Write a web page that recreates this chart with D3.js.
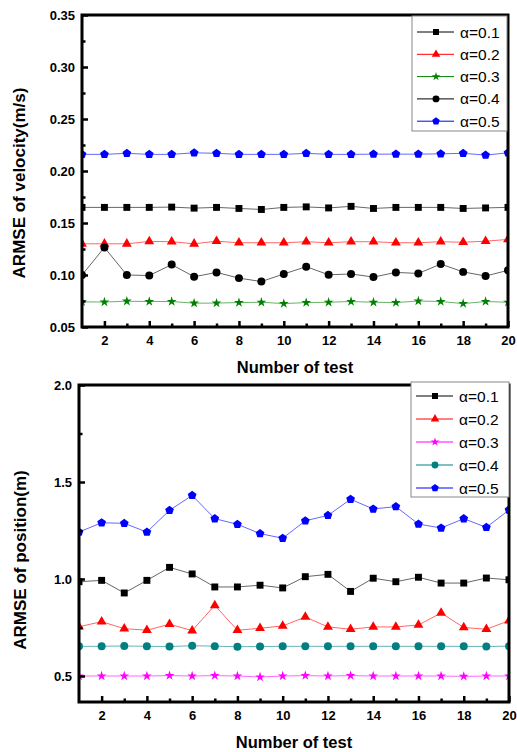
<!DOCTYPE html>
<html>
<head>
<meta charset="utf-8">
<script src="https://cdn.jsdelivr.net/npm/d3@7"></script>
<style>
  html, body { margin: 0; padding: 0; background: #fff; }
  svg { display: block; }
  text { font-family: "Liberation Sans", Arial, sans-serif; }
</style>
</head>
<body>
<svg id="chart" width="517" height="752"></svg>
<script>
// Test indices shared by both panels
const tests = d3.range(1, 21);
const xTicks = [2, 4, 6, 8, 10, 12, 14, 16, 18, 20];

// Velocity ARMSE (m/s) per alpha
const velA1 = [0.165, 0.165, 0.165, 0.165, 0.1653, 0.1643, 0.165, 0.164, 0.163, 0.165,
               0.1655, 0.1645, 0.166, 0.164, 0.165, 0.165, 0.165, 0.164, 0.1645, 0.165];
const velA2 = [0.130, 0.130, 0.130, 0.1323, 0.132, 0.130, 0.1325, 0.131, 0.131, 0.131,
               0.132, 0.131, 0.132, 0.132, 0.131, 0.131, 0.132, 0.1315, 0.1325, 0.1342];
const velA3 = [0.0742, 0.074, 0.0748, 0.0745, 0.0745, 0.0729, 0.073, 0.0735, 0.0738, 0.0725,
               0.0735, 0.0738, 0.0745, 0.0738, 0.0735, 0.075, 0.0745, 0.0725, 0.0745, 0.0738];
const velA4 = [0.100, 0.1265, 0.100, 0.0995, 0.110, 0.0983, 0.1025, 0.097, 0.0937, 0.101,
               0.108, 0.1002, 0.101, 0.098, 0.1025, 0.1015, 0.1105, 0.103, 0.099, 0.1045];
const velA5 = [0.216, 0.216, 0.217, 0.216, 0.216, 0.2175, 0.217, 0.216, 0.216, 0.216,
               0.217, 0.216, 0.216, 0.2162, 0.2162, 0.2162, 0.2165, 0.217, 0.2153, 0.2175];

// Position ARMSE (m) per alpha
const posA1 = [0.986, 0.993, 0.928, 0.993, 1.060, 1.026, 0.959, 0.959, 0.968, 0.954,
               1.012, 1.024, 0.936, 1.004, 0.986, 1.009, 0.979, 0.979, 1.005, 0.996];
const posA2 = [0.754, 0.780, 0.744, 0.736, 0.767, 0.734, 0.864, 0.736, 0.746, 0.758,
               0.804, 0.753, 0.741, 0.753, 0.753, 0.763, 0.825, 0.750, 0.741, 0.785];
const posA3 = [0.500, 0.500, 0.500, 0.500, 0.502, 0.500, 0.502, 0.500, 0.495, 0.500,
               0.502, 0.500, 0.502, 0.500, 0.500, 0.500, 0.500, 0.498, 0.500, 0.500];
const posA4 = [0.653, 0.653, 0.655, 0.653, 0.652, 0.656, 0.654, 0.651, 0.652, 0.653,
               0.653, 0.653, 0.653, 0.653, 0.653, 0.653, 0.653, 0.653, 0.652, 0.654];
const posA5 = [1.242, 1.290, 1.287, 1.242, 1.354, 1.431, 1.311, 1.282, 1.234, 1.210,
               1.300, 1.328, 1.411, 1.361, 1.373, 1.283, 1.263, 1.311, 1.266, 1.356];

const legendLabels = ["α=0.1", "α=0.2", "α=0.3", "α=0.4", "α=0.5"];
const velYTicks = [0.05, 0.10, 0.15, 0.20, 0.25, 0.30, 0.35];
const posYTicks = [0.5, 1.0, 1.5, 2.0];

// Filled pentagon marker
const pentagon = {
  draw(ctx, size) {
    const r = Math.sqrt(size / 2.378);
    for (let i = 0; i < 5; i++) {
      const a = -Math.PI / 2 + i * 2 * Math.PI / 5;
      const px = r * Math.cos(a), py = r * Math.sin(a);
      if (i === 0) ctx.moveTo(px, py); else ctx.lineTo(px, py);
    }
    ctx.closePath();
  }
};

const panels = [
  {
    box: { left: 82, top: 15, right: 508, bottom: 327 },
    yDomain: [0.05, 0.35], yTicks: velYTicks, yFmt: d3.format(".2f"),
    yMinor: d3.range(0.075, 0.35, 0.05),
    yTitle: "ARMSE of velocity(m/s)", yTitleX: 25, yTitleY: 183,
    series: [
      { values: velA1, color: "#000000", shape: d3.symbolSquare, size: 48 },
      { values: velA2, color: "#ff0000", shape: d3.symbolTriangle, size: 42 },
      { values: velA3, color: "#008000", shape: d3.symbolStar, size: 30 },
      { values: velA4, color: "#000000", shape: d3.symbolCircle, size: 50 },
      { values: velA5, color: "#0000ff", shape: pentagon, size: 50 }
    ],
    legend: { x: 412, y: 16, w: 95, h: 115, row0: 32, dy: 22.3 }
  },
  {
    box: { left: 79, top: 385, right: 509, bottom: 702 },
    yDomain: [0.366, 2.0], yTicks: posYTicks, yFmt: d3.format(".1f"),
    yMinor: [0.75, 1.25, 1.75],
    yTitle: "ARMSE of position(m)", yTitleX: 26, yTitleY: 560,
    series: [
      { values: posA1, color: "#000000", shape: d3.symbolSquare, size: 48 },
      { values: posA2, color: "#ff0000", shape: d3.symbolTriangle, size: 42 },
      { values: posA3, color: "#ff00ff", shape: d3.symbolStar, size: 30 },
      { values: posA4, color: "#008080", shape: d3.symbolCircle, size: 50 },
      { values: posA5, color: "#0000ff", shape: pentagon, size: 50 }
    ],
    legend: { x: 411, y: 382, w: 98, h: 115, row0: 396, dy: 23 }
  }
];

const svg = d3.select("#chart");

panels.forEach((p, pi) => {
  const b = p.box;
  const x = d3.scaleLinear().domain([1, 20]).range([b.left, b.right]);
  const y = d3.scaleLinear().domain(p.yDomain).range([b.bottom, b.top]);
  const g = svg.append("g");

  const clipId = "plotclip" + pi;
  svg.append("clipPath").attr("id", clipId)
    .append("rect").attr("x", b.left).attr("y", b.top)
    .attr("width", b.right - b.left).attr("height", b.bottom - b.top);

  const plot = g.append("g").attr("clip-path", `url(#${clipId})`);

  p.series.forEach(s => {
    const line = d3.line().x((d, i) => x(tests[i])).y(d => y(d));
    plot.append("path")
      .attr("d", line(s.values))
      .attr("fill", "none")
      .attr("stroke", s.color)
      .attr("stroke-opacity", 0.6)
      .attr("stroke-width", 1);
    plot.selectAll(null).data(s.values).enter().append("path")
      .attr("d", d3.symbol().type(s.shape).size(s.size))
      .attr("transform", (d, i) => `translate(${x(tests[i])},${y(d)})`)
      .attr("fill", s.color);
  });

  // Axes with inward ticks
  const xAxisBottom = d3.axisBottom(x).tickValues(xTicks).tickSize(-6).tickPadding(9).tickFormat(d3.format("d"));
  const xMinor = d3.axisBottom(x).tickValues(d3.range(3, 20, 2)).tickSize(-3.5).tickFormat("");
  const yAxisLeft = d3.axisLeft(y).tickValues(p.yTicks).tickSize(-6).tickPadding(7).tickFormat(p.yFmt);
  const yMinor = d3.axisLeft(y).tickValues(p.yMinor).tickSize(-3.5).tickFormat("");

  const styleAxis = sel => {
    sel.select(".domain").remove();
    sel.selectAll(".tick line").attr("stroke", "#000").attr("stroke-width", 2.5);
    sel.selectAll(".tick text")
      .attr("fill", "#000")
      .style("font-size", "13px")
      .style("font-weight", "bold")
      .style("font-family", '"Liberation Sans", Arial, sans-serif');
  };

  g.append("g").attr("transform", `translate(0,${b.bottom})`).call(xAxisBottom).call(styleAxis);
  g.append("g").attr("transform", `translate(0,${b.bottom})`).call(xMinor).call(styleAxis);
  g.append("g").attr("transform", `translate(${b.left},0)`).call(yAxisLeft).call(styleAxis);
  g.append("g").attr("transform", `translate(${b.left},0)`).call(yMinor).call(styleAxis);

  // Frame
  g.append("rect")
    .attr("x", b.left).attr("y", b.top)
    .attr("width", b.right - b.left).attr("height", b.bottom - b.top)
    .attr("fill", "none").attr("stroke", "#000").attr("stroke-width", 3);

  // Axis titles
  g.append("text")
    .attr("x", (b.left + b.right) / 2).attr("y", b.bottom + 46)
    .attr("text-anchor", "middle")
    .style("font-size", "16.5px").style("font-weight", "bold")
    .text("Number of test");

  g.append("text")
    .attr("transform", `translate(${p.yTitleX},${p.yTitleY}) rotate(-90)`)
    .attr("text-anchor", "middle")
    .style("font-size", "17px").style("font-weight", "bold")
    .text(p.yTitle);

  // Legend
  const L = p.legend;
  const lg = g.append("g");
  lg.append("rect")
    .attr("x", L.x).attr("y", L.y).attr("width", L.w).attr("height", L.h)
    .attr("fill", "#fff").attr("stroke", "#888").attr("stroke-width", 1);
  p.series.forEach((s, i) => {
    const cy = L.row0 + i * L.dy;
    lg.append("line")
      .attr("x1", L.x + 5).attr("x2", L.x + 42)
      .attr("y1", cy).attr("y2", cy)
      .attr("stroke", s.color).attr("stroke-width", 1);
    lg.append("path")
      .attr("d", d3.symbol().type(s.shape).size(s.size * 0.75))
      .attr("transform", `translate(${L.x + 24},${cy})`)
      .attr("fill", s.color);
    lg.append("text")
      .attr("x", L.x + 48).attr("y", cy + 5.5)
      .style("font-size", "15.5px")
      .text(legendLabels[i]);
  });
});
</script>
</body>
</html>
